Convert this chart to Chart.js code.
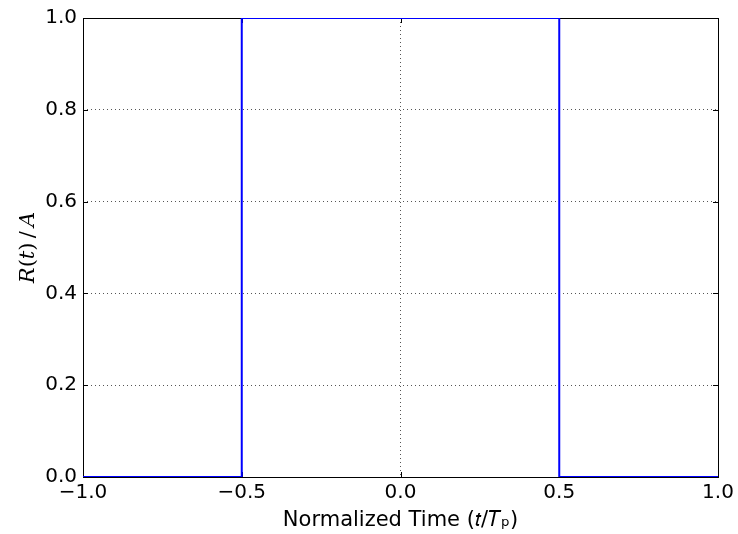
<!DOCTYPE html>
<html><head><meta charset="utf-8">
<script src="https://cdn.jsdelivr.net/npm/chart.js@4"></script>
<style>html,body{margin:0;padding:0;background:#fff}canvas{display:block}</style>
</head><body>
<canvas id="c" width="738" height="534"></canvas>
<script>
const timeValues = [-1, -0.5, -0.5, 0.5, 0.5, 1];
const responseValues = [0, 0, 1, 1, 0, 0];
const xTicks = [-1, -0.5, 0, 0.5, 1];
const yTicks = [0, 0.2, 0.4, 0.6, 0.8, 1];
const xTitle = 'Normalized Time (𝑡/𝑇ₚ)';
const yTitle = '𝑅(𝑡)\u2009/\u2009𝐴';

const fmt = v => (v < 0 ? '\u2212' : '') + Math.abs(v).toFixed(1);
const FONT = "'DejaVu Sans', sans-serif";

const framePlugin = {
  id: 'frame',
  beforeDatasetsDraw(chart) {
    const {ctx, chartArea: a, scales} = chart;
    ctx.save();
    ctx.strokeStyle = '#000';
    ctx.lineWidth = 1;
    ctx.beginPath();
    scales.x.ticks.forEach(t => {
      const px = Math.round(scales.x.getPixelForValue(t.value)) + 0.5;
      ctx.moveTo(px, a.bottom); ctx.lineTo(px, a.bottom - 5);
      ctx.moveTo(px, a.top); ctx.lineTo(px, a.top + 5);
    });
    scales.y.ticks.forEach(t => {
      const py = Math.round(scales.y.getPixelForValue(t.value)) + 0.5;
      ctx.moveTo(a.left, py); ctx.lineTo(a.left + 5, py);
      ctx.moveTo(a.right, py); ctx.lineTo(a.right - 5, py);
    });
    ctx.stroke();
    ctx.strokeRect(Math.round(a.left) + 0.5, Math.round(a.top) + 0.5,
                   Math.round(a.right - a.left), Math.round(a.bottom - a.top));
    ctx.restore();
  }
};

new Chart(document.getElementById('c'), {
  type: 'scatter',
  data: {
    datasets: [{
      data: timeValues.map((t, i) => ({x: t, y: responseValues[i]})),
      showLine: true,
      borderColor: '#0000ff',
      borderWidth: 2,
      pointRadius: 0,
      tension: 0,
      fill: false
    }]
  },
  options: {
    responsive: false,
    animation: false,
    devicePixelRatio: 1,
    layout: {padding: {left: 0, right: 20, top: 16, bottom: 0}},
    plugins: {legend: {display: false}, tooltip: {enabled: false}},
    scales: {
      x: {
        type: 'linear', min: -1, max: 1,
        afterBuildTicks: s => { s.ticks = xTicks.map(v => ({value: v})); },
        afterFit: s => { s.height = 57; },
        ticks: {callback: v => fmt(v), color: '#000', font: {family: FONT, size: 20}, padding: 4, maxRotation: 0, autoSkip: false},
        grid: {color: ctx => (ctx.tick && (ctx.tick.value === -1 || ctx.tick.value === 1)) ? 'rgba(0,0,0,0)' : '#555', lineWidth: 1, drawTicks: false},
        border: {display: false, dash: [1, 3]},
        title: {display: true, text: xTitle, color: '#000', font: {family: FONT, size: 21}, padding: {top: 0, bottom: 1}}
      },
      y: {
        min: 0, max: 1,
        afterBuildTicks: s => { s.ticks = yTicks.map(v => ({value: v})); },
        afterFit: s => { s.width = 83; },
        ticks: {callback: v => fmt(v), color: '#000', font: {family: FONT, size: 20}, padding: 6},
        grid: {color: ctx => (ctx.tick && (ctx.tick.value === 0 || ctx.tick.value === 1)) ? 'rgba(0,0,0,0)' : '#555', lineWidth: 1, drawTicks: false},
        border: {display: false, dash: [1, 3]},
        title: {display: true, text: yTitle, color: '#000', font: {family: "'DejaVu Serif', serif", size: 21}, padding: {top: 16, bottom: 0}}
      }
    }
  },
  plugins: [framePlugin]
});
</script>
</body></html>
